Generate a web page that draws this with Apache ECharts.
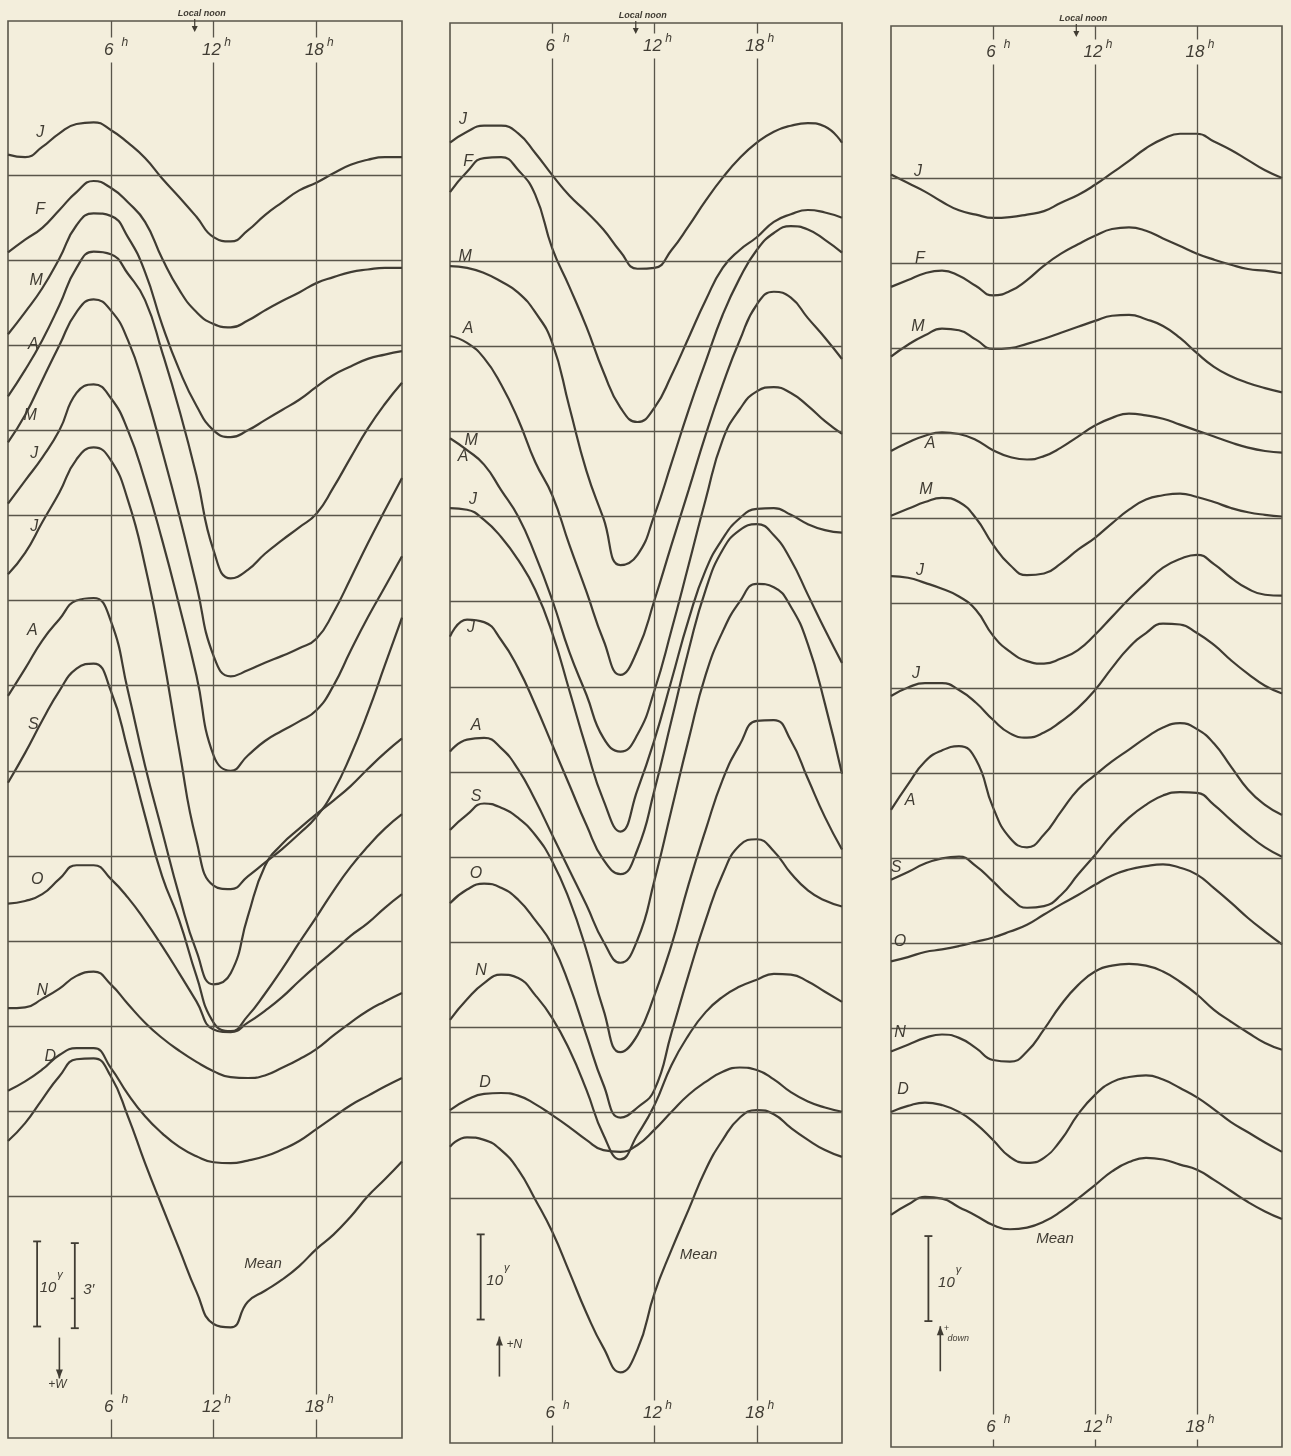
<!DOCTYPE html>
<html><head><meta charset="utf-8">
<script src="https://cdn.jsdelivr.net/npm/echarts@6/dist/echarts.min.js"></script>
<style>html,body{margin:0;padding:0;background:#f3eedc;}#c{width:1291px;height:1456px;}</style>
</head><body><div id="c"></div>
<script>
// ---------------- DATA ----------------
const hours = [0,1,2,3,4,5,6,7,8,9,10,11,12,13,14,15,16,17,18,19,20,21,22,23];
const months = ['J','F','M','A','M','J','J','A','S','O','N','D','Mean'];
const gridLevels = [0,10,20,30,40,50,60,70,80,90,100,110,120];   // gamma, one line every 10γ
const hourTicks = [6,12,18];
const hourTickLabels = ['6','12','18'];
const localNoonHour = 10.9;
const scaleGamma = 10;

// Panel 1 (declination, +W downward) values in γ below the top grid line
const p1J    = [-2.4,-2.1,-3.3,-4.9,-6.0,-6.2,-5.3,-3.8,-2.0,0.4,2.6,4.9,7.3,7.8,6.5,4.7,3.2,1.8,0.9,-0.2,-1.2,-1.8,-2.1,-2.1];
const p1F    = [9.1,7.6,6.2,4.1,2.0,0.7,1.5,3.2,5.5,9.8,13.5,16.1,17.5,17.9,17.1,15.9,14.8,13.8,12.7,12.0,11.4,11.1,10.9,10.9];
const p1M    = [18.7,16.1,13.3,9.8,5.9,4.5,4.8,7.3,11.4,17.6,22.9,27.1,30.0,30.8,30.0,28.8,27.6,26.4,24.9,23.5,22.5,21.6,21.1,20.7];
const p1A    = [26.0,22.9,19.4,15.3,10.9,9.0,9.3,11.6,14.7,20.8,27.6,35.3,44.1,47.4,46.4,44.5,42.9,41.4,39.8,36.7,33.2,29.8,26.9,24.4];
const p1May  = [31.4,28.2,24.1,20.0,16.1,14.6,15.9,19.4,25.3,32.4,40.0,48.2,56.5,58.9,58.2,57.3,56.5,55.6,54.5,51.4,47.4,43.3,39.4,35.6];
const p1Jun  = [38.6,35.9,33.2,30.0,25.6,24.6,26.2,30.0,35.9,42.9,50.6,58.8,68.2,70.0,68.2,66.5,65.3,64.2,62.9,60.0,55.9,52.0,48.4,44.8];
const p1Jul  = [46.9,44.4,40.8,37.3,33.4,32.0,33.5,38.2,45.9,55.9,67.6,78.2,83.5,83.9,82.4,80.8,79.2,77.4,75.4,72.4,68.2,63.2,57.6,52.0];
const p1Aug  = [61.2,58.0,54.7,52.2,50.0,49.7,52.4,60.6,69.4,77.1,84.7,91.2,95.1,93.8,87.1,81.2,78.6,76.8,75.1,73.5,71.8,69.8,67.9,66.2];
const p1S    = [71.4,67.9,64.1,60.6,58.0,57.4,60.6,67.6,75.3,82.4,87.6,94.1,99.6,100.6,98.8,96.2,93.3,90.2,87.2,84.1,81.3,78.9,76.8,75.1];
const p1O    = [85.6,85.3,84.5,82.7,81.1,81.1,82.7,84.9,87.6,90.6,93.8,97.1,100.4,100.7,99.6,98.2,96.6,94.7,92.9,91.2,89.4,87.9,86.1,84.5];
const p1N    = [97.9,97.8,96.8,95.6,94.1,93.6,95.1,97.4,99.6,101.4,102.9,104.2,105.3,106.0,106.1,105.8,104.9,103.9,102.7,101.1,99.6,98.2,97.1,96.1];
const p1D    = [107.6,106.5,105.1,103.4,102.6,102.6,104.9,108.0,110.6,112.6,114.2,115.3,116.0,116.1,115.8,115.3,114.5,113.5,112.1,110.7,109.3,108.2,107.1,106.1];
const p1Mean = [113.5,111.4,108.6,105.9,103.9,103.8,105.9,110.6,116.1,121.2,126.2,131.2,135.0,135.4,132.4,131.1,129.8,128.2,126.2,124.5,122.4,120.0,118.0,115.9];

// Panel 2 (horizontal intensity, +N upward)
const p2J    = [-3.9,-5.2,-5.9,-5.9,-5.0,-2.7,-0.1,2.3,4.2,6.3,8.9,10.9,10.8,8.7,5.9,2.9,0.2,-2.1,-3.9,-5.2,-5.9,-6.2,-5.8,-3.9];
const p2F    = [1.9,-0.5,-2.1,-2.2,-0.7,2.2,8.5,13.0,17.7,23.0,27.2,28.9,27.2,23.4,19.0,14.6,10.8,8.7,7.2,5.4,4.5,4.0,4.3,4.9];
const p2M    = [10.6,10.8,11.4,12.4,13.7,16.0,19.6,27.1,34.6,40.2,45.7,44.5,39.8,33.7,27.5,21.8,16.3,12.0,8.7,6.7,5.9,6.3,7.5,9.0];
const p2A    = [18.8,19.6,21.4,24.5,28.6,33.6,37.5,43.3,48.8,54.5,58.6,55.7,49.8,43.3,36.9,30.4,24.5,19.3,15.1,13.6,14.3,16.7,19.0,21.5];
const p2May  = [30.8,32.2,33.9,36.9,40.0,44.5,49.8,55.9,60.9,66.0,67.6,65.6,60.4,53.3,45.7,38.0,31.0,27.4,25.3,24.8,25.5,27.0,28.8,30.3];
const p2Jun  = [39.0,39.2,40.4,42.4,45.1,48.6,53.7,60.4,67.2,73.3,77.0,72.1,66.2,59.2,52.1,46.3,42.6,40.2,39.1,39.0,39.8,40.9,41.6,41.9];
const p2Jul  = [54.1,52.1,52.4,54.5,57.8,62.1,66.8,71.5,76.2,80.3,82.0,79.1,72.1,63.9,55.7,48.6,43.9,41.6,40.9,42.2,45.1,49.2,53.3,57.2];
const p2Aug  = [67.6,66.2,66.0,67.2,69.7,73.3,77.4,81.5,85.6,89.9,92.4,89.7,82.7,74.4,66.2,58.6,53.5,50.0,47.9,48.3,50.6,55.0,62.0,70.2];
const p2S    = [76.8,75.0,73.7,74.2,75.4,77.4,80.5,85.0,90.9,97.9,102.9,100.9,96.2,90.3,83.2,76.8,70.9,66.8,64.0,63.9,66.3,70.8,75.3,79.1];
const p2O    = [85.4,83.8,83.1,83.6,85.0,87.4,90.3,95.0,100.9,106.7,110.6,109.4,107.3,100.6,93.8,87.4,82.0,78.6,77.9,79.3,81.9,83.9,85.1,85.8];
const p2N    = [99.1,96.7,94.8,93.8,94.2,96.2,98.9,102.6,107.3,112.6,115.5,112.6,109.1,104.4,100.9,98.2,96.4,95.2,94.4,93.7,93.8,94.6,95.8,97.0];
const p2D    = [109.7,108.5,107.8,107.7,108.0,109.0,110.3,111.7,113.2,114.4,114.6,113.8,112.0,109.9,107.9,106.4,105.2,104.7,105.0,106.1,107.6,108.7,109.4,109.9];
const p2Mean = [114.0,112.9,113.2,114.4,116.7,120.2,124.0,128.7,133.5,137.6,140.5,137.8,131.2,126.1,121.4,116.7,113.2,110.6,109.7,110.2,111.8,113.2,114.4,115.2];

// Panel 3 (vertical intensity, +down upward)
const p3J    = [-0.4,0.6,1.6,2.8,3.8,4.3,4.7,4.6,4.3,3.9,2.9,2.0,0.8,-0.6,-2.0,-3.5,-4.6,-5.2,-5.2,-4.3,-3.3,-2.1,-0.9,0.0];
const p3F    = [12.8,12.0,11.2,10.9,11.5,12.7,13.8,13.3,12.0,10.3,8.9,7.8,6.8,6.0,5.8,6.2,7.1,8.0,8.9,9.6,10.2,10.7,10.9,11.2];
const p3M    = [21.0,19.6,18.5,17.7,17.9,19.0,20.1,20.0,19.5,18.9,18.2,17.5,16.8,16.2,16.1,16.6,17.4,18.8,20.6,22.2,23.3,24.1,24.7,25.2];
const p3A    = [32.1,31.1,30.3,29.9,30.1,30.8,32.0,32.8,33.1,32.7,31.7,30.4,29.1,28.2,27.7,27.9,28.3,29.0,29.7,30.4,31.1,31.7,32.1,32.3];
const p3May  = [39.7,38.9,38.1,37.6,38.1,40.0,43.1,45.5,46.7,46.5,45.3,43.7,42.3,40.6,39.0,37.8,37.3,37.1,37.5,38.1,38.8,39.3,39.6,39.8];
const p3Jun  = [46.8,47.0,47.6,48.3,49.2,50.8,53.8,55.7,56.8,57.1,56.5,55.5,53.7,51.6,49.5,47.6,45.8,44.8,44.3,45.4,47.0,48.3,49.0,49.1];
const p3Jul  = [60.9,59.9,59.4,59.4,60.2,61.7,63.7,65.3,65.8,65.2,63.9,62.3,60.2,57.6,55.2,53.5,52.4,52.5,53.5,54.9,56.7,58.3,59.7,60.6];
const p3Aug  = [74.3,71.3,68.6,67.3,66.8,68.4,74.0,77.6,78.7,77.2,74.5,71.9,70.2,68.6,67.2,65.8,64.6,64.1,64.8,66.5,69.2,71.9,73.7,74.9];
const p3S    = [82.5,81.6,80.6,80.0,79.8,80.9,82.7,84.6,85.8,85.6,84.3,81.9,79.6,77.2,75.2,73.7,72.6,72.2,72.3,73.7,75.5,77.2,78.7,79.8];
const p3O    = [92.1,91.6,91.0,90.7,90.3,89.8,89.3,88.6,87.8,86.6,85.4,84.3,83.1,82.0,81.3,80.9,80.7,81.1,81.9,83.5,85.2,87.0,88.6,90.1];
const p3N    = [102.7,101.9,101.1,100.7,101.1,102.3,103.7,103.9,102.7,100.1,97.2,94.9,93.3,92.6,92.4,92.6,93.3,94.5,96.0,97.8,99.2,100.5,101.7,102.5];
const p3D    = [109.8,109.1,108.7,109.0,109.8,111.2,113.1,115.1,115.8,115.2,113.1,110.1,107.8,106.3,105.7,105.5,106.0,107.0,108.1,109.5,111.0,112.2,113.4,114.5];
const p3Mean = [121.9,120.7,119.8,120.0,121.0,122.0,123.1,123.6,123.4,122.7,121.5,120.0,118.4,116.8,115.7,115.2,115.4,116.0,116.6,117.8,119.1,120.4,121.5,122.4];

const panels = [
  [p1J,p1F,p1M,p1A,p1May,p1Jun,p1Jul,p1Aug,p1S,p1O,p1N,p1D,p1Mean],
  [p2J,p2F,p2M,p2A,p2May,p2Jun,p2Jul,p2Aug,p2S,p2O,p2N,p2D,p2Mean],
  [p3J,p3F,p3M,p3A,p3May,p3Jun,p3Jul,p3Aug,p3S,p3O,p3N,p3D,p3Mean]
];

// ---------------- LAYOUT / STYLE ----------------
const PAPER = '#f3eedc', INK = '#403c33', RULE = '#59554a';
const FONT = '"Liberation Sans", "DejaVu Sans", sans-serif';
const PANEL = [
  {left:8,   width:394, top:21, height:1417, yMin:-18.1,  yMax:148.4, topLab:29, botLab:31},
  {left:450, width:392, top:23, height:1420, yMin:-17.96, yMax:148.8, topLab:23, botLab:30},
  {left:891, width:391, top:26, height:1421, yMin:-17.87, yMax:149.2, topLab:26, botLab:20}
];
// label placement: [curve index, text, anchor hour index, dx, dy]
const LABELS = [
  [[0,'J',2,-2,-14],[1,'F',2,-2,-18],[2,'M',2,-6,-8],[3,'A',2,-9,4],[4,'M',1,5,1],[5,'J',2,-8,-4],
   [6,'J',2,-8,4],[7,'A',2,-10,-10],[8,'S',2,-9,4],[9,'O',2,-5,-15],[10,'N',2,0,-8],[11,'D',3,-9,2],[12,'Mean',15,-2,-27]],
  [[0,'J',1,-4,-12],[1,'F',1,1,-10],[2,'M',1,-2,-11],[3,'A',1,1,-14],[4,'M',1,4,-10],[4,'A',1,-4,6],[5,'J',1,6,-10],
   [6,'J',1,4,8],[7,'A',2,-8,-12],[8,'S',2,-8,-7],[9,'O',2,-8,-10],[10,'N',2,-3,-13],[11,'D',2,1,-11],[12,'Mean',13,27,5]],
  [[0,'J',2,-7,-20],[1,'F',2,-5,-15],[2,'M',2,-7,-9],[3,'A',2,5,8],[4,'M',2,1,-13],[5,'J',2,-5,-12],
   [6,'J',2,-9,-10],[7,'A',1,2,16],[8,'S',0,5,-12],[9,'O',0,9,-20],[10,'N',0,9,-19],[11,'D',1,-5,-16],[12,'Mean',10,-6,27]]
];
// scale bars / direction arrows in data units (hour, gamma)
const DECOR = [
  {bars:[{h:1.7,v:125.3,text:'10',sup:'γ',tx:11},{h:3.9,v:125.5,mid:132.0,text:'3′',tx:14}],
   arrow:{h:3.0,from:136.6,to:141.4,text:'+W'}},
  {bars:[{h:1.8,v:124.3,text:'10',sup:'γ',tx:14}], arrow:{h:2.9,from:141.0,to:136.3,text:'+N'}},
  {bars:[{h:2.2,v:124.4,text:'10',sup:'γ',tx:18}], arrow:{h:2.9,from:140.3,to:135.0,text:'down',plus:true}}
];

const chart = echarts.init(document.getElementById('c'), null, {width:1291, height:1456});
const grid=[], xAxis=[], yAxis=[], series=[];
PANEL.forEach((L,p)=>{
  grid.push({left:L.left, top:L.top, width:L.width, height:L.height, show:true,
             borderColor:RULE, borderWidth:1.6, backgroundColor:'transparent'});
  xAxis.push({type:'value', gridIndex:p, min:hours[0], max:hours[hours.length-1], show:false});
  yAxis.push({type:'value', gridIndex:p, inverse:true, min:L.yMin, max:L.yMax, show:false});
  panels[p].forEach((vals,c)=>{
    const s = {type:'line', name:months[c]+' '+(p+1), xAxisIndex:p, yAxisIndex:p,
      data: hours.map((h,i)=>[h, vals[i]]), smooth:0.5, symbol:'none', silent:true,
      lineStyle:{color:INK, width:2.2}, z:3};
    const mine = LABELS[p].filter(l=>l[0]===c);
    if (mine.length) {
      s.markPoint = {symbol:'circle', symbolSize:1, silent:true, itemStyle:{color:'rgba(0,0,0,0)'},
        data: mine.map(l=>({coord:[hours[l[2]], vals[l[2]]],
          label:{show:true, position:'inside', formatter:l[1], offset:[l[3],l[4]], color:INK,
                 fontStyle:'italic', fontSize:l[1]==='Mean'?15:16, fontFamily:FONT}}))};
    }
    if (c===0) {
      s.markLine = {silent:true, symbol:['none','none'], label:{show:false},
        lineStyle:{color:RULE, width:1.3, type:'solid'},
        data: gridLevels.map(v=>({yAxis:v})).concat(hourTicks.map(h=>({xAxis:h})))};
    }
    series.push(s);
  });
});
chart.setOption({animation:false, backgroundColor:PAPER, grid, xAxis, yAxis, series});

// decorations computed from the axes
const g = [];
const P = (p,h,v)=>chart.convertToPixel({gridIndex:p},[h,v]);
const txt = (x,y,text,size,extra)=>Object.assign({type:'text', z:100, x, y,
  style:Object.assign({text, fill:INK, font:'italic '+size+'px '+FONT, align:'center', verticalAlign:'middle'}, extra||{})});
const line = (x1,y1,x2,y2,w)=>({type:'line', z:100, shape:{x1,y1,x2,y2}, style:{stroke:INK, lineWidth:w||1.6}});
PANEL.forEach((L,p)=>{
  hourTicks.forEach((h,i)=>{
    const x = P(p,h,0)[0];
    [L.top+L.topLab, L.top+L.height-L.botLab].forEach(y=>{
      g.push(txt(x-2,y,hourTickLabels[i],17,{backgroundColor:PAPER, padding:[4,2,4,2]}));
      g.push(txt(x+14,y-7,'h',12));
    });
  });
  // local noon
  const xn = P(p,localNoonHour,0)[0];
  g.push(txt(xn+7, L.top-7, 'Local noon', 9, {font:'italic bold 9px '+FONT}));
  g.push(line(xn, L.top-2, xn, L.top+8, 1.2));
  g.push({type:'polygon', z:100, shape:{points:[[xn,L.top+11],[xn-3,L.top+5],[xn+3,L.top+5]]}, style:{fill:INK}});
  // scale bars
  DECOR[p].bars.forEach(b=>{
    const a = P(p,b.h,b.v), e = P(p,b.h,b.v+scaleGamma);
    g.push(line(a[0],a[1],e[0],e[1],1.8));
    g.push(line(a[0]-4,a[1],a[0]+4,a[1],1.8));
    g.push(line(e[0]-4,e[1],e[0]+4,e[1],1.8));
    if (b.mid!==undefined){ const m=P(p,b.h,b.mid); g.push(line(m[0]-4,m[1],m[0],m[1],1.5)); }
    const my=(a[1]+e[1])/2+4;
    g.push(txt(a[0]+b.tx, my, b.text, 15));
    if (b.sup) g.push(txt(a[0]+b.tx+12, my-13, b.sup, 11));
  });
  const ar = DECOR[p].arrow, s0 = P(p,ar.h,ar.from), s1 = P(p,ar.h,ar.to);
  const dir = s1[1]>s0[1]?1:-1;
  g.push(line(s0[0],s0[1],s1[0],s1[1],1.6));
  g.push({type:'polygon', z:100, shape:{points:[[s1[0],s1[1]],[s1[0]-3.5,s1[1]-dir*9],[s1[0]+3.5,s1[1]-dir*9]]}, style:{fill:INK}});
  if (dir>0) g.push(txt(s1[0]-2, s1[1]+6, ar.text, 12));
  else if (ar.plus) { g.push(txt(s1[0]+6, s1[1]+2, '+', 9)); g.push(txt(s1[0]+18, s1[1]+12, ar.text, 9)); }
  else g.push(txt(s1[0]+15, s1[1]+8, ar.text, 12));
});
chart.setOption({graphic:g});
</script>
</body></html>
